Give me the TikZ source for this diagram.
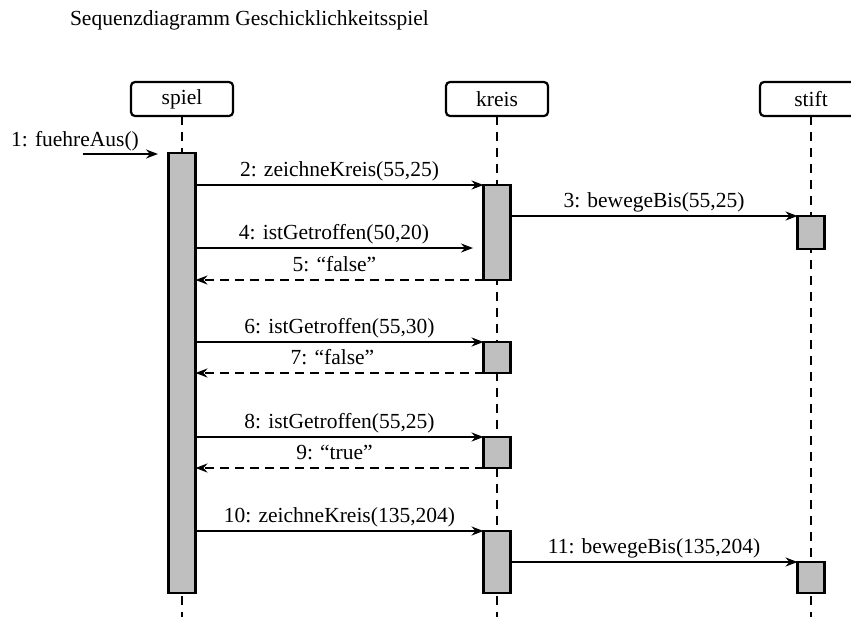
\documentclass[tikz,border=0pt]{standalone}
\usepackage{fontspec}
\setmainfont{Liberation Serif}
\usetikzlibrary{arrows.meta}

\begin{document}
\begin{tikzpicture}[x=1pt,y=-1pt,
  every node/.style={font=\fontsize{21.5}{24}\selectfont, inner sep=0pt, outer sep=0pt},
  head/.style={draw, line width=2.2pt, rounded corners=4pt, minimum width=102pt, minimum height=34pt, fill=white},
  lifeline/.style={line width=2.2pt, dash pattern=on 9pt off 7pt},
  bar/.style={draw, line width=2.2pt, fill=black!25, minimum width=27pt, anchor=north},
  msg/.style={line width=2pt, -{Stealth[length=12pt,width=9pt,inset=4pt]}},
  ret/.style={msg, dash pattern=on 9pt off 6pt},
  lbl/.style={anchor=base, yshift=9pt},
]
\useasboundingbox (0,0) rectangle (851,616);
\clip (0,0) rectangle (851,616);

% title
\node[anchor=base west] (title) at (70,25) {Sequenzdiagramm Geschicklichkeitsspiel};

% object heads
\node[head] (spiel) at (182,99) {spiel};
\node[head] (kreis) at (497,99) {kreis};
\node[head] (stift) at (811,99) {stift};

% lifelines
\coordinate (spielEnd) at (182,620);
\coordinate (kreisEnd) at (497,620);
\coordinate (stiftEnd) at (811,620);
\draw[lifeline] (spiel.south) -- (spielEnd);
\draw[lifeline] (kreis.south) -- (kreisEnd);
\draw[lifeline] (stift.south) -- (stiftEnd);

% activation bars
\node[bar, minimum height=440pt] (a1) at (182,153) {};
\node[bar, minimum height=95pt] (k1) at (497,185) {};
\node[bar, minimum height=33pt] (s1) at (811,216) {};
\node[bar, minimum height=31pt] (k2) at (497,342) {};
\node[bar, minimum height=31pt] (k3) at (497,437) {};
\node[bar, minimum height=62pt] (k4) at (497,531) {};
\node[bar, minimum height=31pt] (s2) at (811,562) {};

% found message
\coordinate (m1s) at (83,154);
\coordinate (m1e) at (158,154);
\draw[msg] (m1s) -- (m1e);
\node[anchor=base] (l1) at (75,146) {1: fuehreAus()};

% calls and returns
\draw[msg] (a1.east |- k1.north west) -- (k1.north west)
  node[lbl, midway] {2: zeichneKreis(55,25)};
\draw[msg] (k1.east |- s1.north west) -- (s1.north west)
  node[lbl, midway] {3: bewegeBis(55,25)};
\coordinate (m4s) at (195,248);
\coordinate (m4e) at (473,248);
\draw[msg] (m4s) -- (m4e)
  node[lbl, midway] {4: istGetroffen(50,20)};
\draw[ret] (k1.south west) -- (a1.east |- k1.south west)
  node[lbl, midway, xshift=-5pt] {5: “false”};
\draw[msg] (a1.east |- k2.north west) -- (k2.north west)
  node[lbl, midway] {6: istGetroffen(55,30)};
\draw[ret] (k2.south west) -- (a1.east |- k2.south west)
  node[lbl, midway, xshift=-7pt] {7: “false”};
\draw[msg] (a1.east |- k3.north west) -- (k3.north west)
  node[lbl, midway] {8: istGetroffen(55,25)};
\draw[ret] (k3.south west) -- (a1.east |- k3.south west)
  node[lbl, midway, xshift=-5pt] {9: “true”};
\draw[msg] (a1.east |- k4.north west) -- (k4.north west)
  node[lbl, midway] {10: zeichneKreis(135,204)};
\draw[msg] (k4.east |- s2.north west) -- (s2.north west)
  node[lbl, midway] {11: bewegeBis(135,204)};
\end{tikzpicture}
\end{document}
